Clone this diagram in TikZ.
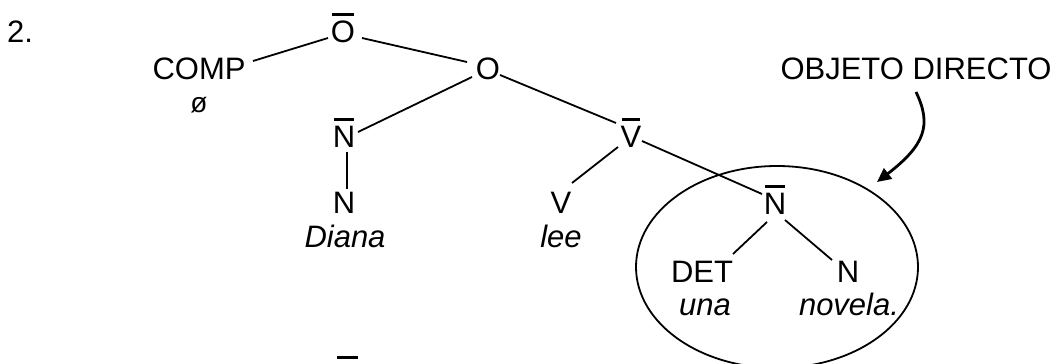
\documentclass[tikz,border=0pt]{standalone}
\usepackage{fontspec}
\setmainfont{Liberation Sans}
\usetikzlibrary{calc,arrows.meta,shapes.geometric}
\newcommand\ovl[1]{\setbox0=\hbox{#1}\rlap{\hspace{1pt}\raisebox{26pt}{\rule{\dimexpr\wd0-2pt\relax}{3pt}}}\box0}
\begin{document}
\begin{tikzpicture}[x=1pt,y=-1pt,
  lab/.style={font=\fontsize{31}{37}\selectfont, inner sep=0pt, anchor=base},
  word/.style={lab, font=\fontsize{31}{37}\selectfont\itshape},
  edge/.style={line width=1.8pt},
  pointer/.style={line width=2.8pt, -{Triangle[length=14pt,width=13pt]}},
]
\useasboundingbox (0,0) rectangle (1058,364);
\clip (0,0) rectangle (1058,364);
\node[lab] (num) at (20,42) {2.};
\node[lab] (comp) at (199,79) {COMP};
\node[lab, font=\fontsize{28}{34}\selectfont] (null) at (199,112) {ø};
\node[lab] (obar) at (343,42) {\ovl{O}};
\node[lab] (o) at (488,79) {O};
\node[lab] (nbar1) at (344,147) {\ovl{N}};
\node[lab] (n1) at (344,213) {N};
\node[word] (diana) at (345,247) {Diana};
\node[lab] (vbar) at (631,147) {\ovl{V}};
\node[lab] (v) at (561,213) {V};
\node[word] (lee) at (561,247) {lee};
\node[lab] (nbar2) at (775,214) {\ovl{N}};
\node[lab] (det) at (702,282) {DET};
\node[word] (una) at (705,315) {una};
\node[lab] (n2) at (848,282) {N};
\node[word] (novela) at (849,315) {novela.};
\node[lab] (objd) at (916,79) {OBJETO DIRECTO};
\node[draw, ellipse, line width=1.8pt, minimum width=282pt, minimum height=202pt, inner sep=0pt] (od) at (777,267) {};

\draw[edge] ($(comp.base)+(54,-18)$) -- ($(obar.base)+(-15,-4)$);
\draw[edge] ($(obar.base)+(19,-4)$) -- ($(o.base)+(-21,-17)$);
\draw[edge] ($(o.base)+(-16,-2)$) -- ($(nbar1.base)+(14,-15)$);
\draw[edge] ($(o.base)+(12,-4)$) -- ($(vbar.base)+(-15,-24)$);
\draw[edge] ($(nbar1.base)+(3,5)$) -- ($(n1.base)+(3,-24)$);
\draw[edge] ($(vbar.base)+(-13,0)$) -- ($(v.base)+(11,-30)$);
\draw[edge] ($(vbar.base)+(11,-6)$) -- ($(nbar2.base)+(-13,-20)$);
\draw[edge] ($(nbar2.base)+(-8,8)$) -- ($(det.base)+(31,-28)$);
\draw[edge] ($(nbar2.base)+(10,6)$) -- ($(n2.base)+(-16,-22)$);

\draw[pointer] ($(objd.base)+(0,13)$) .. controls ($(objd.base)+(16,46)$) and ($(objd.base)+(9,66)$) .. ($(od.center)+(100,-85)$);

\fill (337,356) rectangle (358,359);
\end{tikzpicture}
\end{document}
